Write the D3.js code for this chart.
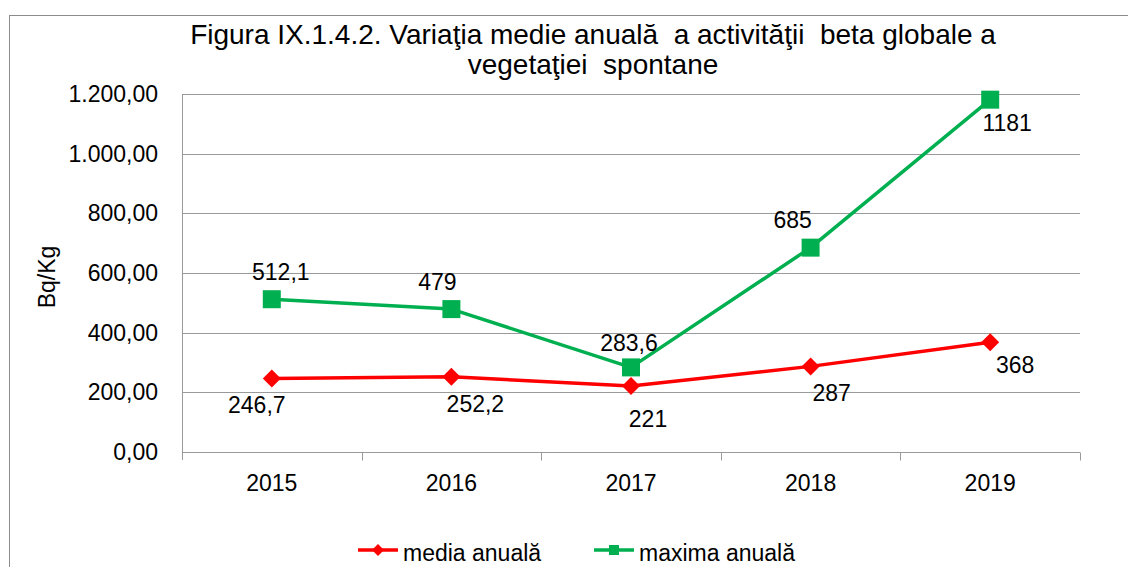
<!DOCTYPE html>
<html>
<head>
<meta charset="utf-8">
<script src="https://cdn.jsdelivr.net/npm/d3@7"></script>
<style>
  body { margin: 0; background: #fff; }
  svg text { font-family: "Liberation Sans", Arial, sans-serif; fill: #000; }
</style>
</head>
<body>
<div id="chart"></div>
<script>
// DATA
const years = ["2015", "2016", "2017", "2018", "2019"];
const mediaAnuala = [246.7, 252.2, 221, 287, 368];
const maximaAnuala = [512.1, 479, 283.6, 685, 1181];
const yTicks = [0, 200, 400, 600, 800, 1000, 1200];
const seriesNames = ["media anuală", "maxima anuală"];
const titleLines = ["Figura IX.1.4.2. Variaţia medie anuală  a activităţii  beta globale a", "vegetaţiei  spontane"];

// label offsets (dx, dy) from each point, as placed in the original
const mediaLabelOffsets = [[-15, 35], [24, 35], [17, 41], [21, 35], [25, 31]];
const maximaLabelOffsets = [[9, -19], [-14, -19], [-2, -16], [-18, -20], [17, 31]];

const W = 1128, H = 567;
const margin = { top: 94, right: 48, bottom: 115, left: 182 };
const width = W - margin.left - margin.right;
const height = H - margin.top - margin.bottom;
const fs = "23px";

const ro = d3.formatLocale({ decimal: ",", thousands: ".", grouping: [3], currency: ["", " lei"] });

const svg = d3.select("#chart")
    .append("svg")
    .attr("width", W)
    .attr("height", H);

// outer chart frame (runs off the right/bottom edge)
svg.append("rect")
    .attr("x", 9.5)
    .attr("y", 15.5)
    .attr("width", W)
    .attr("height", H)
    .attr("fill", "none")
    .attr("stroke", "#8c8c8c")
    .attr("stroke-width", 1);

const g = svg.append("g")
    .attr("transform", `translate(${margin.left},${margin.top})`);

// SCALES
const xs = d3.scaleBand().domain(years).range([0, width]);
const ys = d3.scaleLinear().domain([0, 1200]).range([height, 0]);

// gridlines
g.append("g")
    .selectAll("line")
    .data(yTicks)
    .enter()
    .append("line")
    .attr("x1", 0)
    .attr("x2", width)
    .attr("y1", d => Math.round(ys(d)) + 0.5)
    .attr("y2", d => Math.round(ys(d)) + 0.5)
    .attr("stroke", "#9a9a9a")
    .attr("stroke-width", 1);

// y axis
const yAxis = g.append("g")
    .call(d3.axisLeft(ys).tickValues(yTicks).tickSize(0).tickPadding(24)
        .tickFormat(ro.format(",.2f")));
yAxis.select(".domain").attr("stroke", "#9a9a9a").attr("d", `M0.5,0V${height + 8}`);
yAxis.selectAll("text")
    .style("font-size", fs)
    .style("font-family", "Liberation Sans, Arial, sans-serif");

// x axis
const xAxis = g.append("g")
    .attr("transform", `translate(0,${Math.round(height) + 0.5})`)
    .call(d3.axisBottom(xs).tickSize(0).tickPadding(22));
xAxis.select(".domain").attr("stroke", "#9a9a9a").attr("d", `M0,0H${width}`);
xAxis.selectAll("text")
    .style("font-size", fs)
    .style("font-family", "Liberation Sans, Arial, sans-serif");
xAxis.append("g")
    .selectAll("line")
    .data(years.map((d, i) => i + 1))
    .enter()
    .append("line")
    .attr("x1", i => Math.round(i * xs.step()) + 0.5)
    .attr("x2", i => Math.round(i * xs.step()) + 0.5)
    .attr("y1", 0)
    .attr("y2", 8)
    .attr("stroke", "#9a9a9a");

// y label
svg.append("text")
    .attr("transform", "translate(55,277) rotate(-90)")
    .attr("text-anchor", "middle")
    .style("font-size", fs)
    .text("Bq/Kg");

// title
svg.append("g")
    .selectAll("text")
    .data(titleLines)
    .enter()
    .append("text")
    .attr("x", 593)
    .attr("y", (d, i) => 44 + i * 30)
    .attr("text-anchor", "middle")
    .style("font-size", "28px")
    .style("white-space", "pre")
    .text(d => d);

// LINES
const cx = (d, i) => xs(years[i]) + xs.bandwidth() / 2;
const line = d3.line().x(cx).y(d => ys(d));

const series = [
    { name: seriesNames[0], values: mediaAnuala, color: "#ff0000", marker: "diamond", offsets: mediaLabelOffsets },
    { name: seriesNames[1], values: maximaAnuala, color: "#00b050", marker: "square", offsets: maximaLabelOffsets }
];

const diamond = s => `M0,${-s}L${s},0L0,${s}L${-s},0Z`;
const square = s => `M${-s},${-s}H${s}V${s}H${-s}Z`;

series.forEach(s => {
    g.append("path")
        .datum(s.values)
        .attr("d", line)
        .attr("fill", "none")
        .attr("stroke", s.color)
        .attr("stroke-width", 3.5)
        .attr("stroke-linejoin", "round");

    g.append("g")
        .selectAll("path")
        .data(s.values)
        .enter()
        .append("path")
        .attr("transform", (d, i) => `translate(${cx(d, i)},${ys(d)})`)
        .attr("d", s.marker == "diamond" ? diamond(9) : square(9))
        .attr("fill", s.color);

    g.append("g")
        .selectAll("text")
        .data(s.values)
        .enter()
        .append("text")
        .attr("x", (d, i) => cx(d, i) + s.offsets[i][0])
        .attr("y", (d, i) => ys(d) + s.offsets[i][1])
        .attr("text-anchor", "middle")
        .style("font-size", fs)
        .text(d => String(d).replace(".", ","));
});

// LEGEND
const legendX = [358, 594];
const legend = svg.append("g")
    .selectAll("g")
    .data(series)
    .enter()
    .append("g")
    .attr("transform", (d, i) => `translate(${legendX[i]},550)`);

legend.append("line")
    .attr("x1", 0)
    .attr("x2", 40)
    .attr("stroke", d => d.color)
    .attr("stroke-width", 3.5);
legend.append("path")
    .attr("transform", "translate(20,0)")
    .attr("d", d => d.marker == "diamond" ? diamond(6) : square(5))
    .attr("fill", d => d.color);
legend.append("text")
    .attr("x", 45)
    .attr("y", 11)
    .style("font-size", fs)
    .text(d => d.name);
</script>
</body>
</html>
